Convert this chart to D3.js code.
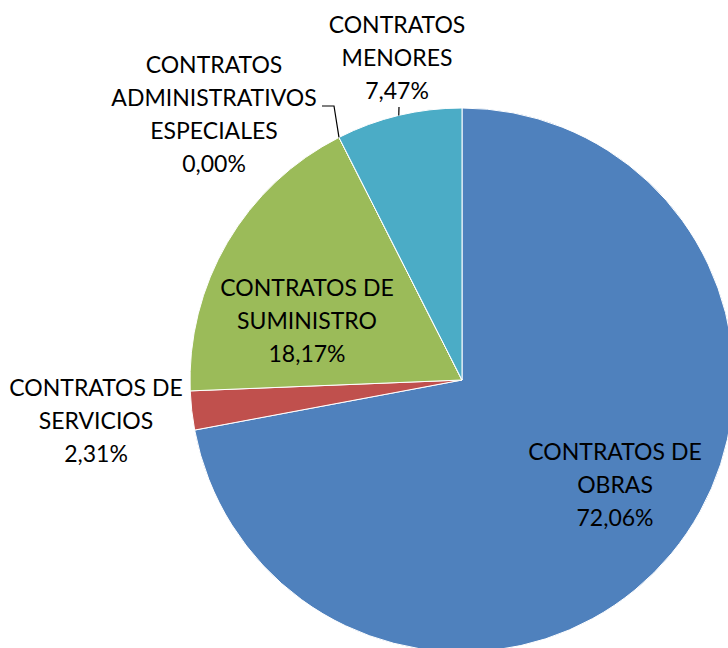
<!DOCTYPE html>
<html lang="es">
<head>
  <meta charset="UTF-8" />
  <title>Contratos</title>
  <script src="https://d3js.org/d3.v7.min.js"></script>
  <style>
    body {
      background-color: white;
      margin: 0;
    }

    svg {
      display: block;
    }

    .label text {
      font-family: Lato, "Open Sans", sans-serif;
      font-size: 23px;
      fill: #000;
      text-anchor: middle;
    }

    .leader {
      fill: none;
      stroke: #000;
      stroke-width: 1.2px;
    }
  </style>
</head>
<body>
  <svg></svg>

  <script>
    const width = 728;
    const height = 648;

    // data, clockwise from 12 o'clock
    const names = [
      ["CONTRATOS DE", "OBRAS"],
      ["CONTRATOS DE", "SERVICIOS"],
      ["CONTRATOS DE", "SUMINISTRO"],
      ["CONTRATOS", "ADMINISTRATIVOS", "ESPECIALES"],
      ["CONTRATOS", "MENORES"]
    ];
    const values = [72.06, 2.31, 18.17, 0.00, 7.47];
    const colors = ["#4F81BD", "#C0504D", "#9BBB59", "#8064A2", "#4BACC6"];

    // label layout: text block centre (x, y of first line), optional leader start
    const labelPos = [
      { x: 615, y: 452 },
      { x: 96, y: 388 },
      { x: 307, y: 288 },
      { x: 214, y: 65, leader: [322, 106], elbow: [334, 106] },
      { x: 397, y: 25, leader: [399, 107] }
    ];
    const lineGap = 33;

    const cx = 462, cy = 380, radius = 272;

    const svg = d3.select("svg")
      .attr("width", width)
      .attr("height", height);

    const pie = d3.pie().sort(null).value(d => d)(values);
    const arc = d3.arc().innerRadius(0).outerRadius(radius);

    const g = svg.append("g").attr("transform", `translate(${cx},${cy})`);

    g.selectAll("path")
      .data(pie)
      .enter().append("path")
      .attr("d", arc)
      .attr("fill", (d, i) => colors[i])
      .attr("stroke", "#fff")
      .attr("stroke-width", 1);

    // leader lines to the arc edge at each slice's mid angle
    pie.forEach((d, i) => {
      const p = labelPos[i];
      if (!p.leader) return;
      const a = (d.startAngle + d.endAngle) / 2;
      const end = [cx + radius * Math.sin(a), cy - radius * Math.cos(a)];
      const pts = [p.leader];
      if (p.elbow) pts.push(p.elbow);
      pts.push(end);
      svg.append("path")
        .attr("class", "leader")
        .attr("d", d3.line()(pts));
    });

    const fmt = v => v.toFixed(2).replace(".", ",") + "%";

    const label = svg.append("g").attr("class", "label");
    names.forEach((lines, i) => {
      const p = labelPos[i];
      const all = lines.concat([fmt(values[i])]);
      all.forEach((t, j) => {
        label.append("text")
          .attr("x", p.x)
          .attr("y", p.y + j * lineGap + 8)
          .text(t);
      });
    });
  </script>
</body>
</html>
